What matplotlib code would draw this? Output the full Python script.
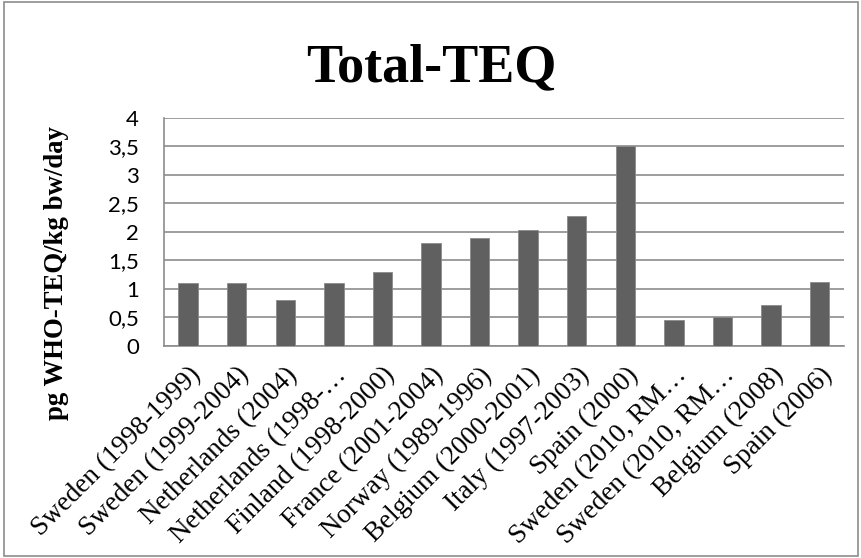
import matplotlib.pyplot as plt
from matplotlib.patches import Rectangle
import numpy as np

# Total-TEQ intake estimates per study
studies = ['Sweden (1998-1999)', 'Sweden (1999-2004)', 'Netherlands (2004)',
           'Netherlands (1998-…', 'Finland (1998-2000)', 'France (2001-2004)',
           'Norway (1989-1996)', 'Belgium (2000-2001)', 'Italy (1997-2003)',
           'Spain (2000)', 'Sweden (2010, RM…', 'Sweden (2010, RM…',
           'Belgium (2008)', 'Spain (2006)']
teq = [1.1, 1.1, 0.8, 1.1, 1.3, 1.8, 1.9, 2.03, 2.28, 3.5, 0.45, 0.5, 0.72, 1.12]
yticks = [0, 0.5, 1, 1.5, 2, 2.5, 3, 3.5, 4]
ytick_labels = ['0', '0,5', '1', '1,5', '2', '2,5', '3', '3,5', '4']

fig = plt.figure(figsize=(8.62, 5.58), dpi=100)
ax = fig.add_axes([0.190, 0.380, 0.789, 0.409])

x = np.arange(len(studies))
ax.bar(x, teq, width=0.4, color='#606060', edgecolor='#8a8a8a', linewidth=0.6, zorder=3)

ax.set_xlim(-0.5, len(studies) - 0.5)
ax.set_ylim(0, 4)
ax.set_yticks(yticks)
ax.set_yticklabels(ytick_labels, fontfamily='Lato', fontsize=16)
ax.yaxis.grid(True, color='#8c8c8c', linewidth=1.2, zorder=0)
ax.tick_params(axis='y', length=0, pad=18)

ax.set_xticks(x)
ax.set_xticklabels(studies, rotation=45, ha='right', va='top', rotation_mode='anchor',
                   fontfamily='Liberation Serif', fontsize=19.5)
ax.tick_params(axis='x', length=0, pad=12)

for side in ['top', 'right']:
    ax.spines[side].set_visible(False)
for side in ['left', 'bottom']:
    ax.spines[side].set_color('#8c8c8c')
    ax.spines[side].set_linewidth(1.2)

# y label sits lower than the axes centre in the original
fig.text(0.066, 0.51, 'pg WHO-TEQ/kg bw/day', rotation=90, ha='center', va='center',
         fontfamily='Liberation Serif', fontweight='bold', fontsize=19.3)
fig.text(0.5, 0.877, 'Total-TEQ', ha='center', va='center', fontfamily='Liberation Serif',
         fontweight='bold', fontsize=39)

# chart border
fig.patches.append(Rectangle((0.005, 0.004), 0.990, 0.992, transform=fig.transFigure,
                             fill=False, edgecolor='#8c8c8c', linewidth=1.2))

fig.savefig('out.png', dpi=100)
